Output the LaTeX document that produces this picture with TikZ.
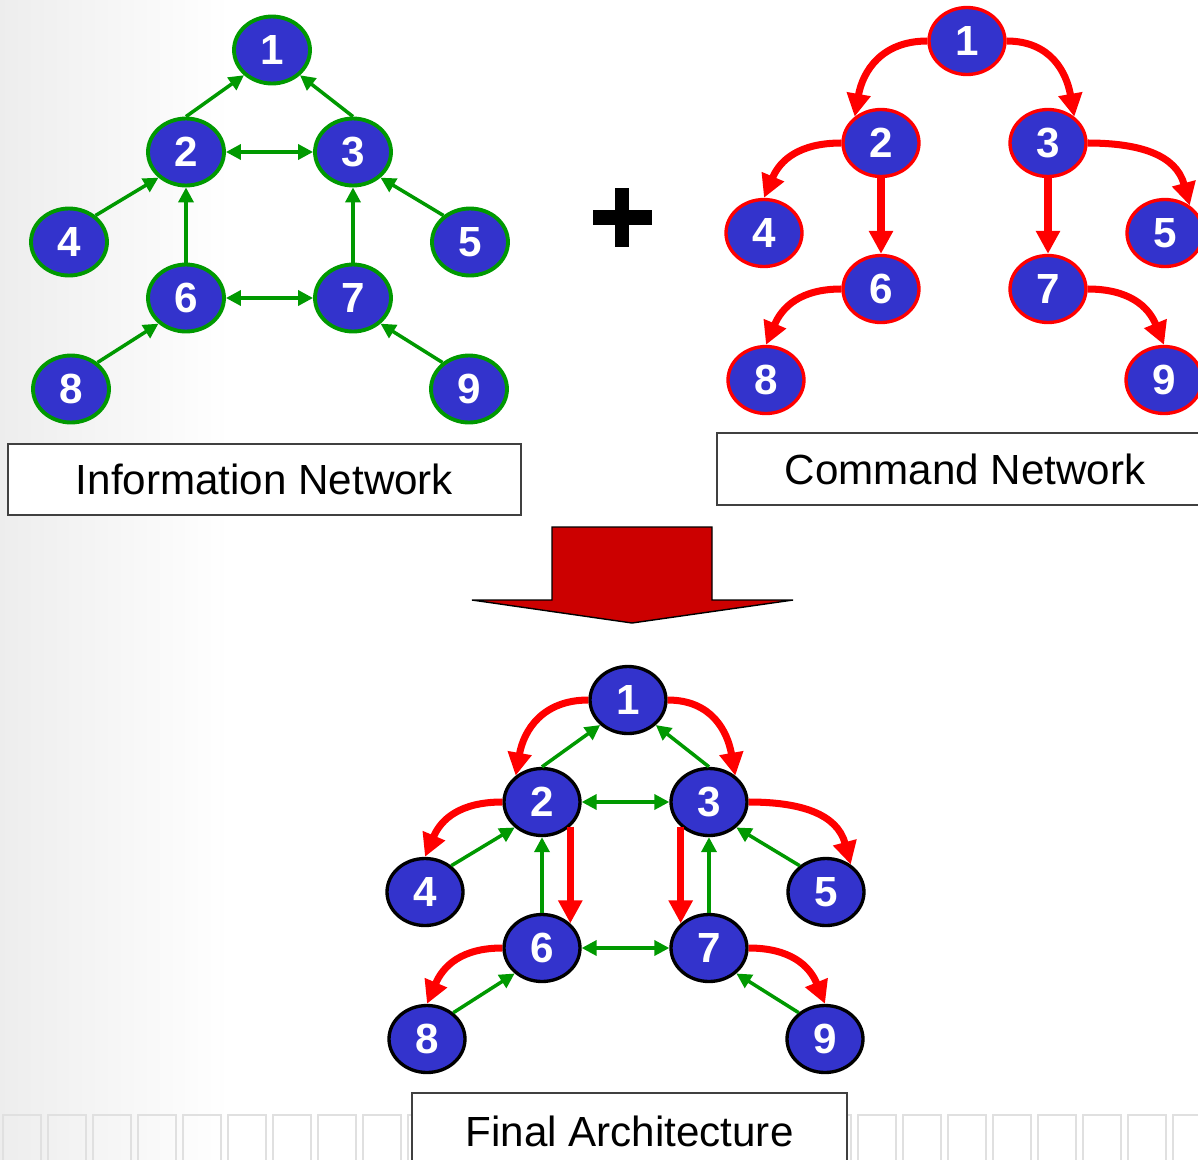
\documentclass[tikz,border=0pt]{standalone}
\usepackage{fontspec}
\setmainfont{Liberation Sans}
\usetikzlibrary{shapes.geometric,arrows.meta}
\definecolor{nodeblue}{HTML}{3333CC}
\definecolor{infogreen}{HTML}{009900}
\definecolor{cmdred}{HTML}{FF0000}
\definecolor{bigred}{HTML}{CC0000}
\tikzset{
  net/.style={ellipse,fill=nodeblue,minimum width=1.52cm,minimum height=1.34cm,
    inner sep=0pt,text=white,font=\fontsize{24}{24}\selectfont\bfseries},
  infonode/.style={net,draw=infogreen,line width=2.2pt},
  cmdnode/.style={net,draw=cmdred,line width=1.9pt},
  finalnode/.style={net,draw=black,line width=1.9pt},
  infoarr/.style={draw=infogreen,line width=2pt,>={Triangle[length=0.3cm,width=0.3cm]}},
  cmdarr/.style={draw=cmdred,line width=4pt,looseness=1.12,-{Triangle[length=0.46cm,width=0.46cm]}},
  title/.style={draw=black!75,fill=white,line width=0.8pt,font=\fontsize{24}{24}\selectfont}
}
\begin{document}
\begin{tikzpicture}[x=0.02cm,y=-0.02cm]
  \useasboundingbox (0,0) rectangle (1198,1160);
  % background
  \shade[left color=black!7,right color=white] (0,0) rectangle (230,1160);
  \foreach \x in {0,...,26} {
    \draw[black!12,line width=1.2pt] (\x*45+3,1165) rectangle ++(38,-50);
  }

  % nodes of the three networks
  \foreach \net/\sty/\cx/\cy in {i/infonode/272/50, c/cmdnode/967/41, f/finalnode/628/700} {
    \foreach \n/\dx/\dy in {1/0/0, 2/-86/102, 3/81/102, 4/-203/192, 5/198/192,
                            6/-86/248, 7/81/248, 8/-201/339, 9/197/339} {
      \node[\sty] (\net\n) at (\cx+\dx,\cy+\dy) {\n};
    }
  }

  % information links
  \foreach \net in {i,f} {
    \draw[infoarr,->] (\net2.north) -- (\net1.222);
    \draw[infoarr,->] (\net3.north) -- (\net1.318);
    \draw[infoarr,<->] (\net2) -- (\net3);
    \draw[infoarr,<->] (\net6) -- (\net7);
    \draw[infoarr,->] (\net6) -- (\net2);
    \draw[infoarr,->] (\net7) -- (\net3);
    \draw[infoarr,->] (\net4.45) -- (\net2.223);
    \draw[infoarr,->] (\net5.135) -- (\net3.317);
    \draw[infoarr,->] (\net8.45) -- (\net6.223);
    \draw[infoarr,->] (\net9.135) -- (\net7.317);
  }

  % command links
  \foreach \net in {c,f} {
    \draw[cmdarr] (\net1.west) to[out=180,in=80] (\net2.135);
    \draw[cmdarr] (\net1.east) to[out=0,in=100] (\net3.45);
    \draw[cmdarr] (\net2.west) to[out=180,in=67] (\net4.north);
    \draw[cmdarr] (\net3.east) to[out=0,in=105] (\net5.48);
    \draw[cmdarr] (\net6.west) to[out=180,in=67] (\net8.north);
    \draw[cmdarr] (\net7.east) to[out=0,in=112] (\net9.north);
  }
  \draw[cmdarr] (c2) -- (c6);
  \draw[cmdarr] (c3) -- (c7);
  \draw[cmdarr] (f2.-41) -- (f6.41);
  \draw[cmdarr] (f3.221) -- (f7.139);

  % plus and big arrow
  \fill (593,210) rectangle (652,225);
  \fill (615,188) rectangle (629,247);
  \filldraw[fill=bigred,draw=black,line width=0.8pt] (552,600) -- (552,527) -- (712,527)
    -- (712,600) -- (793,600) -- (632,623) -- (472,600) -- cycle;

  % titles
  \node[title,minimum width=10.26cm,minimum height=1.42cm] (infotitle) at (264.5,479.5) {Information Network};
  \node[title,minimum width=9.92cm,minimum height=1.44cm] (cmdtitle) at (965,469) {Command Network};
  \node[title,minimum width=8.7cm,minimum height=1.52cm] (finaltitle) at (629.5,1131) {Final Architecture};
\end{tikzpicture}
\end{document}
